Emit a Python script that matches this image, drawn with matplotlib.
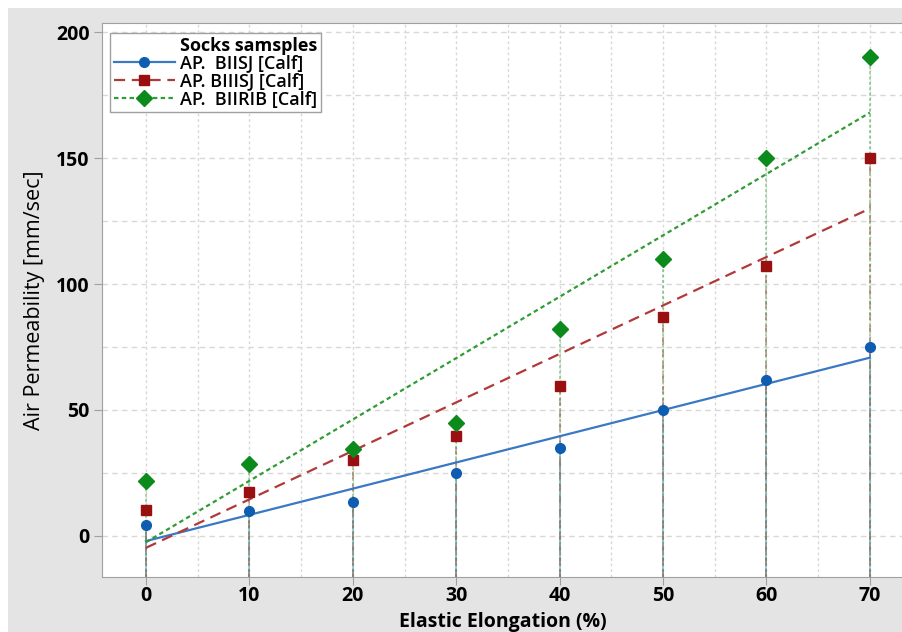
"""Air permeability vs elastic elongation with fitted lines."""
import matplotlib

matplotlib.use("Agg")
import matplotlib.pyplot as plt
from matplotlib.patches import Rectangle
from matplotlib.ticker import MultipleLocator
import numpy as np

elongation = [0, 10, 20, 30, 40, 50, 60, 70]
biisj = [4.4, 10, 13.5, 25, 35, 50, 62, 75]
biiisj = [10.3, 17.5, 30, 39.7, 59.5, 87, 107, 150]
biirib = [22, 28.6, 34.5, 45, 82, 110, 150, 190]

series_labels = ["AP.  BIISJ [Calf]", "AP. BIIISJ [Calf]", "AP.  BIIRIB [Calf]"]
legend_title = "Socks samsples"

plt.rcParams["font.family"] = ["Open Sans", "DejaVu Sans"]

fig = plt.figure(figsize=(9.03, 6.32), dpi=100, facecolor="white")
fig.patches.append(Rectangle((8 / 903, 0), 1, 1 - 8 / 632, transform=fig.transFigure,
                             facecolor="#e4e4e4", edgecolor="none", zorder=-5))
ax = fig.add_axes([102 / 903, 55 / 632, 1 - 102 / 903, 554 / 632])
ax.set_facecolor("white")

# blank entry so the legend title lines up with the labels
ax.plot([], [], color="none", label=legend_title)

x = np.array(elongation, dtype=float)
ymin = -16.3
styles = [
    (biisj, "#0f5db0", "#3a78c4", "-", "o", 7),
    (biiisj, "#9a1010", "#b03a3a", (0, (5, 3)), "s", 7.5),
    (biirib, "#0c8a1c", "#2f9c35", (0, (2, 1.5)), "D", 8.5),
]
for (y, mcol, lcol, ls, mk, ms), label in zip(styles, series_labels):
    y = np.array(y, dtype=float)
    ax.vlines(x, ymin, y, colors=lcol, linestyles=ls, linewidth=1.1, alpha=0.55, zorder=2)
    slope, icpt = np.polyfit(x, y, 1)
    ax.plot([0, 70], [icpt, icpt + 70 * slope], color=lcol, linestyle=ls, linewidth=1.6, zorder=3)
    ax.plot(x, y, linestyle="none", marker=mk, markersize=ms, color=mcol,
            markeredgecolor=mcol, zorder=4)
    ax.plot([], [], color=lcol, linestyle=ls, linewidth=1.6, marker=mk, markersize=ms,
            markerfacecolor=mcol, markeredgecolor=mcol, label=label)

ax.set_xlim(-4.25, 73.2)
ax.set_ylim(ymin, 203.6)
ax.xaxis.set_major_locator(MultipleLocator(10))
ax.yaxis.set_major_locator(MultipleLocator(50))
ax.xaxis.set_minor_locator(MultipleLocator(5))
ax.yaxis.set_minor_locator(MultipleLocator(25))
ax.xaxis.grid(True, which="both", color="#d8d8d8", linestyle=(0, (2, 2)), linewidth=1)
ax.yaxis.grid(True, which="both", color="#d8d8d8", linestyle=(0, (4, 3)), linewidth=1)
ax.set_axisbelow(True)
ax.tick_params(which="major", direction="out", length=6, color="#a0a0a0",
               labelsize=14, pad=3)
ax.tick_params(axis="x", which="major", pad=0.5)
ax.tick_params(which="minor", length=0)
for lbl in ax.get_xticklabels() + ax.get_yticklabels():
    lbl.set_fontweight("bold")
for sp in ax.spines.values():
    sp.set_color("#a0a0a0")
ax.spines["right"].set_visible(False)

ax.set_xlabel("Elastic Elongation (%)", fontsize=14, fontweight="bold", labelpad=4)
ax.set_ylabel("Air Permeability [mm/sec]", fontsize=15.5, labelpad=8)

leg = ax.legend(loc="upper left", bbox_to_anchor=(8 / 801, 1 - 10 / 554),
                fontsize=13, fancybox=False, edgecolor="#a0a0a0", framealpha=1,
                handlelength=3.4, borderpad=0.2, labelspacing=0.0,
                handletextpad=0.3, borderaxespad=0)
for i, t in enumerate(leg.get_texts()):
    t.set_fontweight("bold" if i == 0 else "semibold")

fig.savefig("out.png", dpi=100, facecolor=fig.get_facecolor())
